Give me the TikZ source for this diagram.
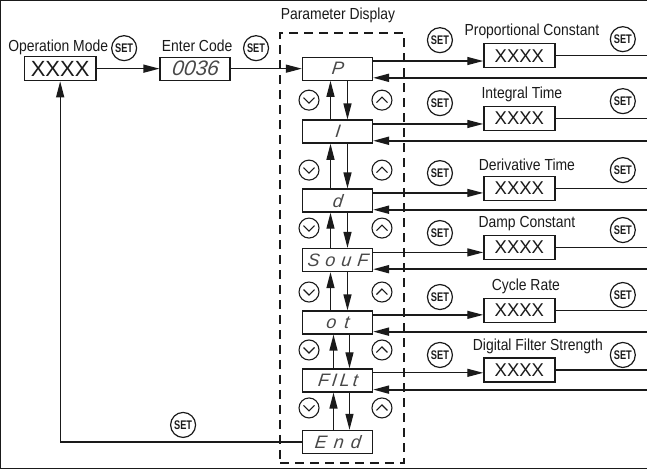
\documentclass[tikz,border=0pt]{standalone}
\usepackage{fontspec}
\setmainfont{Liberation Sans}[FakeStretch=0.87]
\newfontfamily\setfont{Liberation Sans}[FakeStretch=0.74]
\newfontfamily\xfont{Liberation Sans}
\newfontfamily\segfont{Liberation Sans}[FakeSlant=0.12]
\usetikzlibrary{arrows.meta,calc}
\definecolor{ink}{HTML}{1A1A1A}
\begin{document}
\begin{tikzpicture}[x=1pt,y=-1pt,
  every path/.style={draw=ink},
  lbl/.style={font=\fontsize{16}{17}\selectfont, inner sep=0, text=ink},
  disp/.style={draw=ink, line width=1.3pt, minimum width=70pt, minimum height=23pt, inner sep=0,
    font=\segfont\itshape\fontsize{18}{18}\selectfont, text=ink!80},
  valbox/.style={draw=ink, line width=1.3pt, minimum width=71pt, minimum height=24pt, inner sep=0,
    font=\xfont\fontsize{18.5}{19}\selectfont, text=ink},
  setbtn/.style={circle, draw=ink, line width=1.2pt, minimum size=25pt, inner sep=0,
    font=\setfont\bfseries\fontsize{12.5}{12.5}\selectfont, text=ink},
  navbtn/.style={circle, draw=ink, line width=1.1pt, minimum size=20pt, inner sep=0},
  conn/.style={line width=1.3pt},
  ret/.style={line width=1.9pt},
  tip/.style={-{Triangle[length=16pt,width=8pt]}},
  frame/.style={draw=ink, line width=1.4pt, dash pattern=on 9pt off 6pt, inner sep=0},
  dn/.pic={\draw[line width=1.1pt] (-5.5,-2.5) -- (0,3) -- (5.5,-2.5);},
  upc/.pic={\draw[line width=1.1pt] (-5.5,2.5) -- (0,-3) -- (5.5,2.5);},
]
\useasboundingbox (0,0) rectangle (647,468);
\coordinate (R) at (647,0);

% left part
\node[lbl] (opl) at (58,47) {Operation Mode};
\node[setbtn] (s1) at (124,48) {SET};
\node[valbox, minimum width=72pt, font=\xfont\fontsize{22}{22}\selectfont] (op) at (60,68.5) {XXXX};
\node[lbl] (ecl) at (197,46) {Enter Code};
\node[setbtn] (s2) at (256,48) {SET};
\node[disp, font=\segfont\itshape\fontsize{21}{21}\selectfont] (ec) at (195,68.5) {0036};

% parameter display
\node[lbl] (pdl) at (338,15) {Parameter Display};
\node[frame, minimum width=124pt, minimum height=430pt] (fr) at (342,248) {};

\node[disp] (P) at (337.5,68.5) {P};
\node[disp] (I) at (337.5,131.5) {I};
\node[disp] (d) at (337.5,200.5) {d};
\node[disp] (S) at (337.5,260) {S\hspace{6pt}o\hspace{6pt}u\hspace{6pt}F};
\node[disp] (o) at (337.5,322.5) {o\hspace{8pt}t};
\node[disp] (F) at (337.5,380.5) {F\hspace{3pt}I\hspace{3pt}L\hspace{3pt}t};
\node[disp] (E) at (337.5,442) {E\hspace{7pt}n\hspace{7pt}d};

% vertical arrows
\foreach \a/\b/\u/\w in {P/I/-7/10, I/d/-7/10, d/S/-7/10, S/o/-7/10, o/F/-4/12, F/E/-4/12}{
  \draw[conn,tip] ($(\b.north)+(\u,0)$) -- ($(\a.south)+(\u,0)$);
  \draw[conn,tip] ($(\a.south)+(\w,0)$) -- ($(\b.north)+(\w,0)$);
}
% nav buttons
\foreach \n/\y in {1/100, 2/170, 3/228, 4/292, 5/350, 6/408}{
  \node[navbtn] (dn\n) at (309,\y) {};
  \pic at (dn\n) {dn};
  \node[navbtn] (up\n) at (382,\y) {};
  \pic at (up\n) {upc};
}

% main arrows
\draw[conn,tip] (op.east) -- (ec.west);
\draw[conn,tip] (ec.east) -- (P.west);
\draw[conn,tip] (E.west) -- (E.west -| op.south) -- (op.south);
\node[setbtn] (s3) at (183,425) {SET};

% right side
\foreach \B/\V/\lab/\lx/\vy/\sl/\sr in {
   P/v1/{Proportional Constant}/532/55.5/40/39,
   I/v2/{Integral Time}/522/118.5/103/101,
   d/v3/{Derivative Time}/527/188.5/173/170,
   S/v4/{Damp Constant}/527/247.5/233/230,
   o/v5/{Cycle Rate}/526/310.5/297/295,
   F/v6/{Digital Filter Strength}/538/370/355/355}{
  \node[valbox] (\V) at (519.5,\vy) {XXXX};
  \node[lbl] (\V l) at (\lx,\vy-24) {\lab};
  \node[setbtn] (\V sl) at (440,\sl) {SET};
  \node[setbtn] (\V sr) at (623,\sr) {SET};
  \coordinate (\V o) at ($(\B.north east)+(0,4.5)$);
  \draw[conn,tip] (\V o) -- (\V o -| \V.west);
  \draw[conn] (\V.east) -- (\V.east -| R);
  \coordinate (\V r) at ($(\B.south east)+(0,-3)$);
  \draw[ret,tip] (\V r -| R) -- (\V r);
}
\end{tikzpicture}
\end{document}
